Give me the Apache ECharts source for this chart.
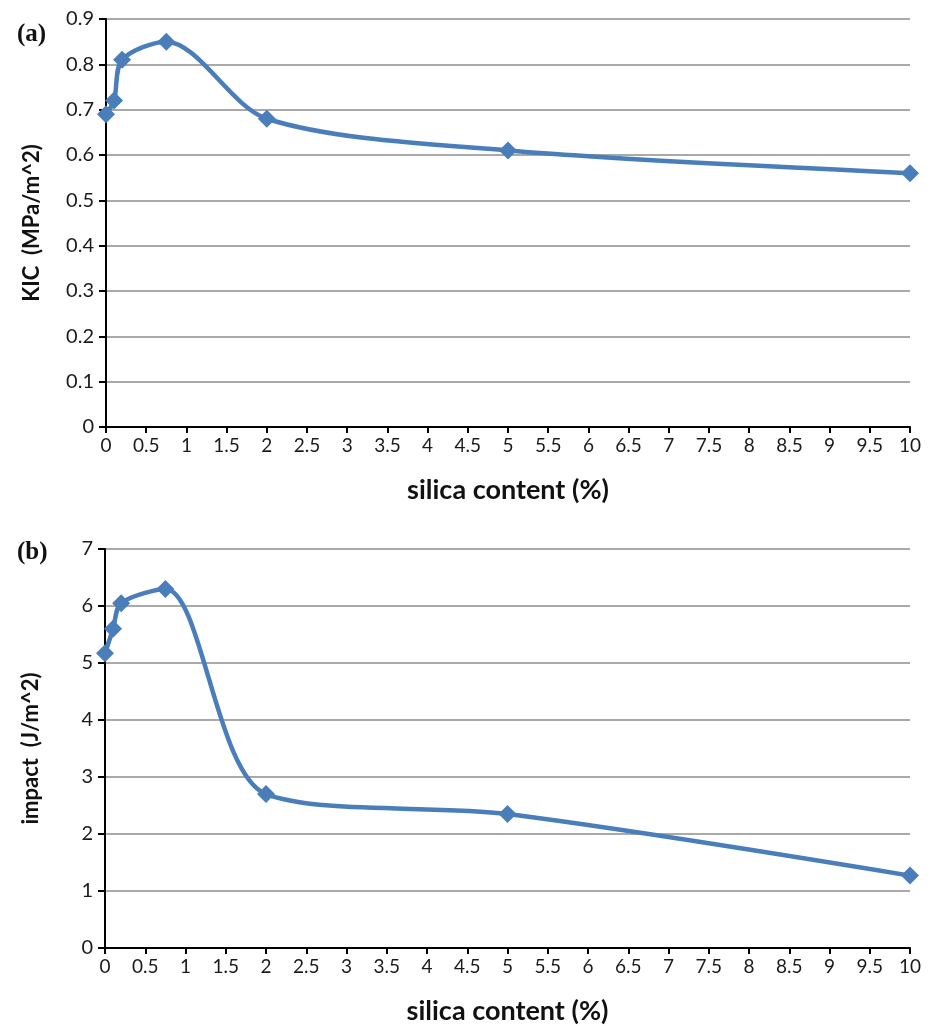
<!DOCTYPE html>
<html>
<head>
<meta charset="utf-8">
<script src="https://cdn.jsdelivr.net/npm/echarts@6/dist/echarts.min.js"></script>
<style>
  html, body { margin: 0; padding: 0; background: #fff; }
  #chart { width: 933px; height: 1026px; }
</style>
</head>
<body>
<div id="chart"></div>
<script>
// silica content (%)
const silica = [0, 0.1, 0.2, 0.75, 2, 5, 10];
// panel (a) KIC (MPa/m^2)
const kic = [0.69, 0.72, 0.81, 0.85, 0.68, 0.61, 0.56];
// panel (b) impact (J/m^2)
const impact = [5.17, 5.6, 6.05, 6.3, 2.7, 2.35, 1.27];

const pairs = (xs, ys) => xs.map((x, i) => [x, ys[i]]);

const chart = echarts.init(document.getElementById('chart'));

const lineBlue = '#4a7ebb';
const font = 'Lato, "Open Sans", sans-serif';

function xAxisOf(gridIndex) {
  return {
    type: 'value',
    gridIndex: gridIndex,
    min: 0,
    max: 10,
    interval: 0.5,
    name: 'silica content (%)',
    nameLocation: 'middle',
    nameGap: 50,
    nameTextStyle: { fontFamily: font, fontWeight: 'bold', fontSize: 27, color: '#111' },
    axisLine: { show: true, lineStyle: { color: '#000', width: 2 } },
    axisTick: { show: true, length: 6, lineStyle: { color: '#000', width: 2 } },
    axisLabel: { fontFamily: font, fontSize: 19, color: '#1a1a1a', margin: 9 },
    splitLine: { show: false }
  };
}

function yAxisOf(gridIndex, max, interval, name) {
  return {
    type: 'value',
    gridIndex: gridIndex,
    min: 0,
    max: max,
    interval: interval,
    name: name,
    nameLocation: 'middle',
    nameGap: 63,
    nameTextStyle: { fontFamily: font, fontWeight: 'bold', fontSize: 22, color: '#111' },
    axisLine: { show: true, lineStyle: { color: '#000', width: 2 } },
    axisTick: { show: true, length: 7, lineStyle: { color: '#000', width: 2 } },
    axisLabel: { fontFamily: font, fontSize: 20, color: '#1a1a1a', margin: 12 },
    splitLine: { show: true, lineStyle: { color: '#8c8c8c', width: 1.5 } }
  };
}

function seriesOf(index, data) {
  return {
    type: 'line',
    xAxisIndex: index,
    yAxisIndex: index,
    data: data,
    smooth: 0.3,
    symbol: 'diamond',
    symbolSize: 18,
    lineStyle: { color: lineBlue, width: 4.5 },
    itemStyle: { color: lineBlue },
    animation: false
  };
}

const option = {
  backgroundColor: '#fff',
  title: [
    { text: '(a)', left: 12, top: 17, textStyle: { fontFamily: '"Liberation Serif", serif', fontWeight: 'bold', fontSize: 25, color: '#111' } },
    { text: '(b)', left: 12, top: 535, textStyle: { fontFamily: '"Liberation Serif", serif', fontWeight: 'bold', fontSize: 25, color: '#111' } }
  ],
  grid: [
    { left: 106, right: 23, top: 19, height: 408 },
    { left: 105, right: 23, top: 549, height: 402 }
  ],
  xAxis: [xAxisOf(0), xAxisOf(1)],
  yAxis: [
    yAxisOf(0, 0.9, 0.1, 'KIC  (MPa/m^2)'),
    yAxisOf(1, 7, 1, 'impact  (J/m^2)')
  ],
  series: [
    seriesOf(0, pairs(silica, kic)),
    seriesOf(1, pairs(silica, impact))
  ]
};

chart.setOption(option);
window.addEventListener('resize', chart.resize);
</script>
</body>
</html>
